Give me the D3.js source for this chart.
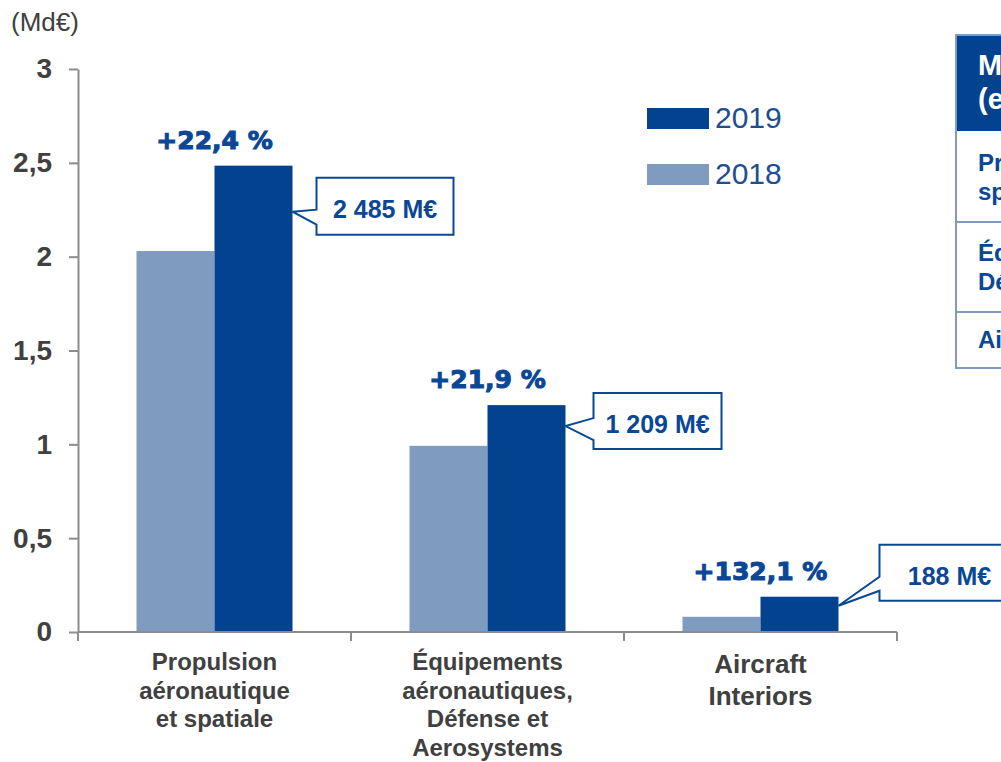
<!DOCTYPE html>
<html>
<head>
<meta charset="utf-8">
<script src="https://cdn.jsdelivr.net/npm/d3@7"></script>
<style>
  html, body { margin: 0; padding: 0; background: #fff; }
  svg { display: block; }
</style>
</head>
<body>
<div id="chart"></div>
<script>
// chart values (Md€)
var categories = ['Propulsion', 'Equipements', 'Interiors'];
var labelLines = [
  ['Propulsion', 'aéronautique', 'et spatiale'],
  ['Équipements', 'aéronautiques,', 'Défense et', 'Aerosystems'],
  ['Aircraft', 'Interiors']
];
var series = ['2018', '2019'];
var values2018 = [2.030, 0.992, 0.081];
var values2019 = [2.485, 1.209, 0.188];
var growth = ['+22,4 %', '+21,9 %', '+132,1 %'];
var amounts = ['2 485 M€', '1 209 M€', '188 M€'];
var yTicks = [0, 0.5, 1, 1.5, 2, 2.5, 3];
var tableHeader = ['Marge opérationnelle courante', '(en % du chiffre d\'affaires)'];
var tableRows = [
  ['Propulsion aéronautique et', 'spatiale'],
  ['Équipements aéronautiques,', 'Défense et Aerosystems'],
  ['Aircraft Interiors']
];

var width = 1001;
var height = 762;
var dark = '#03428e';
var light = '#7f9cc0';
var textBlue = '#0a4796';
var grey = '#404040';
var axisGrey = '#8c8c8c';

var svg = d3.select('#chart').append('svg')
  .attr('width', width)
  .attr('height', height)
  .style('font-family', '"Liberation Sans", Arial, sans-serif');

var x0 = d3.scaleBand().domain(categories).range([78, 897]);
var x1 = d3.scaleBand().domain(series).range([0, x0.bandwidth()]).paddingOuter(0.75);
var y = d3.scaleLinear().domain([0, 3]).range([632, 69]);

var rows = categories.map((c, i) => ({cat: c, i: i, v2018: values2018[i], v2019: values2019[i]}));

// unit
svg.append('text')
  .attr('x', 11).attr('y', 31)
  .attr('fill', grey)
  .style('font-size', '26px')
  .text('(Md€)');

// y axis
var yAxis = svg.append('g')
  .attr('transform', 'translate(78,0)')
  .call(d3.axisLeft(y).tickValues(yTicks).tickSize(9).tickSizeOuter(0).tickPadding(17)
    .tickFormat(d => String(d).replace('.', ',')));
yAxis.select('.domain').attr('stroke', axisGrey).attr('stroke-width', 2);
yAxis.selectAll('.tick line').attr('stroke', axisGrey).attr('stroke-width', 2);
yAxis.selectAll('.tick text')
  .attr('fill', grey)
  .style('font-size', '28px')
  .style('font-weight', 'bold')
  .style('font-family', '"Liberation Sans", Arial, sans-serif');

// bars
var groups = svg.append('g').selectAll('g')
  .data(rows)
  .enter().append('g')
  .attr('transform', d => `translate(${x0(d.cat)},0)`);

groups.append('rect')
  .attr('x', x1('2018'))
  .attr('width', x1.bandwidth())
  .attr('y', d => y(d.v2018))
  .attr('height', d => y(0) - y(d.v2018))
  .attr('fill', light);

groups.append('rect')
  .attr('x', x1('2019'))
  .attr('width', x1.bandwidth())
  .attr('y', d => y(d.v2019))
  .attr('height', d => y(0) - y(d.v2019))
  .attr('fill', dark);

// x axis
svg.append('line')
  .attr('x1', x0.range()[0]).attr('x2', x0.range()[1])
  .attr('y1', y(0)).attr('y2', y(0))
  .attr('stroke', axisGrey).attr('stroke-width', 2);

svg.append('g').selectAll('line')
  .data([categories[0]].concat(categories))
  .enter().append('line')
  .attr('x1', (d, i) => i === 0 ? x0(d) : x0(d) + x0.bandwidth())
  .attr('x2', (d, i) => i === 0 ? x0(d) : x0(d) + x0.bandwidth())
  .attr('y1', y(0)).attr('y2', y(0) + 9)
  .attr('stroke', axisGrey).attr('stroke-width', 2);

var labelSize = [24, 24, 26];
var labelStep = [28.5, 28.5, 32];
var xLabels = svg.append('g').selectAll('text')
  .data(rows)
  .enter().append('text')
  .attr('text-anchor', 'middle')
  .attr('fill', grey)
  .style('font-weight', 'bold')
  .style('font-size', d => labelSize[d.i] + 'px');

xLabels.selectAll('tspan')
  .data(d => labelLines[d.i].map((t, k) => ({t: t, k: k, d: d})))
  .enter().append('tspan')
  .attr('x', d => x0(d.d.cat) + x0.bandwidth() / 2)
  .attr('y', d => 670 + d.k * labelStep[d.d.i] + (d.d.i === 2 ? 3 : 0))
  .text(d => d.t);

// growth labels
svg.append('g').selectAll('text')
  .data(rows)
  .enter().append('text')
  .attr('x', d => x0(d.cat) + x0.bandwidth() / 2)
  .attr('y', d => y(d.v2019) - 17)
  .attr('text-anchor', 'middle')
  .attr('fill', textBlue)
  .attr('stroke', textBlue)
  .attr('stroke-width', 1.1)
  .style('font-family', '"DejaVu Sans", sans-serif')
  .style('font-weight', 'bold')
  .style('font-size', '25px')
  .text(d => growth[d.i]);

// callouts (offsets relative to the 2019 bar top)
var callout = [
  {dx: 24, top: 12, tip: 46, a1: 32, a2: 47, w: 137, h: 57},
  {dx: 28, top: -12, tip: 21, a1: 25, a2: 47, w: 128, h: 56},
  {dx: 41, top: -52, tip: 9, a1: 32, a2: 46, w: 140, h: 56}
];

var calls = svg.append('g').selectAll('g')
  .data(rows)
  .enter().append('g');

calls.append('path')
  .attr('fill', '#fff')
  .attr('stroke', textBlue)
  .attr('stroke-width', 2)
  .attr('stroke-linejoin', 'miter')
  .attr('d', d => {
    var c = callout[d.i];
    var bx = x0(d.cat) + x1('2019') + x1.bandwidth();
    var yt = y(d.v2019);
    var L = bx + c.dx, T = yt + c.top;
    return `M${L},${T}H${L + c.w}V${T + c.h}H${L}V${T + c.a2}L${bx},${yt + c.tip}L${L},${T + c.a1}Z`;
  });

calls.append('text')
  .attr('x', d => x0(d.cat) + x1('2019') + x1.bandwidth() + callout[d.i].dx + callout[d.i].w / 2)
  .attr('y', d => y(d.v2019) + callout[d.i].top + 40)
  .attr('text-anchor', 'middle')
  .attr('fill', textBlue)
  .style('font-weight', 'bold')
  .style('font-size', '25px')
  .text(d => amounts[d.i]);

// legend
var legend = svg.append('g').selectAll('g')
  .data(series.slice().reverse())
  .enter().append('g')
  .attr('transform', (d, i) => `translate(647,${108 + i * 56})`);

legend.append('rect')
  .attr('width', 62).attr('height', 21)
  .attr('fill', d => d === '2019' ? dark : light);

legend.append('text')
  .attr('x', 68).attr('y', 20)
  .attr('fill', '#1e4e8e')
  .style('font-size', '30px')
  .text(d => d);

// margin table (cut by the right edge)
var table = svg.append('g').attr('transform', 'translate(956,35)');
var rowEdges = [0, 96, 187, 277, 333];
var tableW = 400;

table.append('rect')
  .attr('width', tableW).attr('height', rowEdges[1])
  .attr('fill', dark);

table.append('rect')
  .attr('width', tableW).attr('height', rowEdges[4])
  .attr('fill', 'none')
  .attr('stroke', light).attr('stroke-width', 2);

table.selectAll('line.sep')
  .data(rowEdges.slice(2, 4))
  .enter().append('line')
  .attr('class', 'sep')
  .attr('x1', 0).attr('x2', tableW)
  .attr('y1', d => d).attr('y2', d => d)
  .attr('stroke', light).attr('stroke-width', 2);

table.append('text')
  .attr('fill', '#fff')
  .style('font-weight', 'bold')
  .style('font-size', '29px')
  .selectAll('tspan')
  .data(tableHeader)
  .enter().append('tspan')
  .attr('x', 22)
  .attr('y', (d, i) => 40 + i * 34)
  .text(d => d);

table.selectAll('text.row')
  .data(tableRows)
  .enter().append('text')
  .attr('class', 'row')
  .attr('fill', textBlue)
  .style('font-weight', 'bold')
  .style('font-size', '24px')
  .each(function(lines, r) {
    var top = rowEdges[r + 1];
    var bottom = rowEdges[r + 2];
    var mid = (top + bottom) / 2;
    var start = mid - (lines.length - 1) * 14 + 8;
    d3.select(this).selectAll('tspan')
      .data(lines)
      .enter().append('tspan')
      .attr('x', 22)
      .attr('y', (d, k) => start + k * 29)
      .text(d => d);
  });

svg.node();
</script>
</body>
</html>
